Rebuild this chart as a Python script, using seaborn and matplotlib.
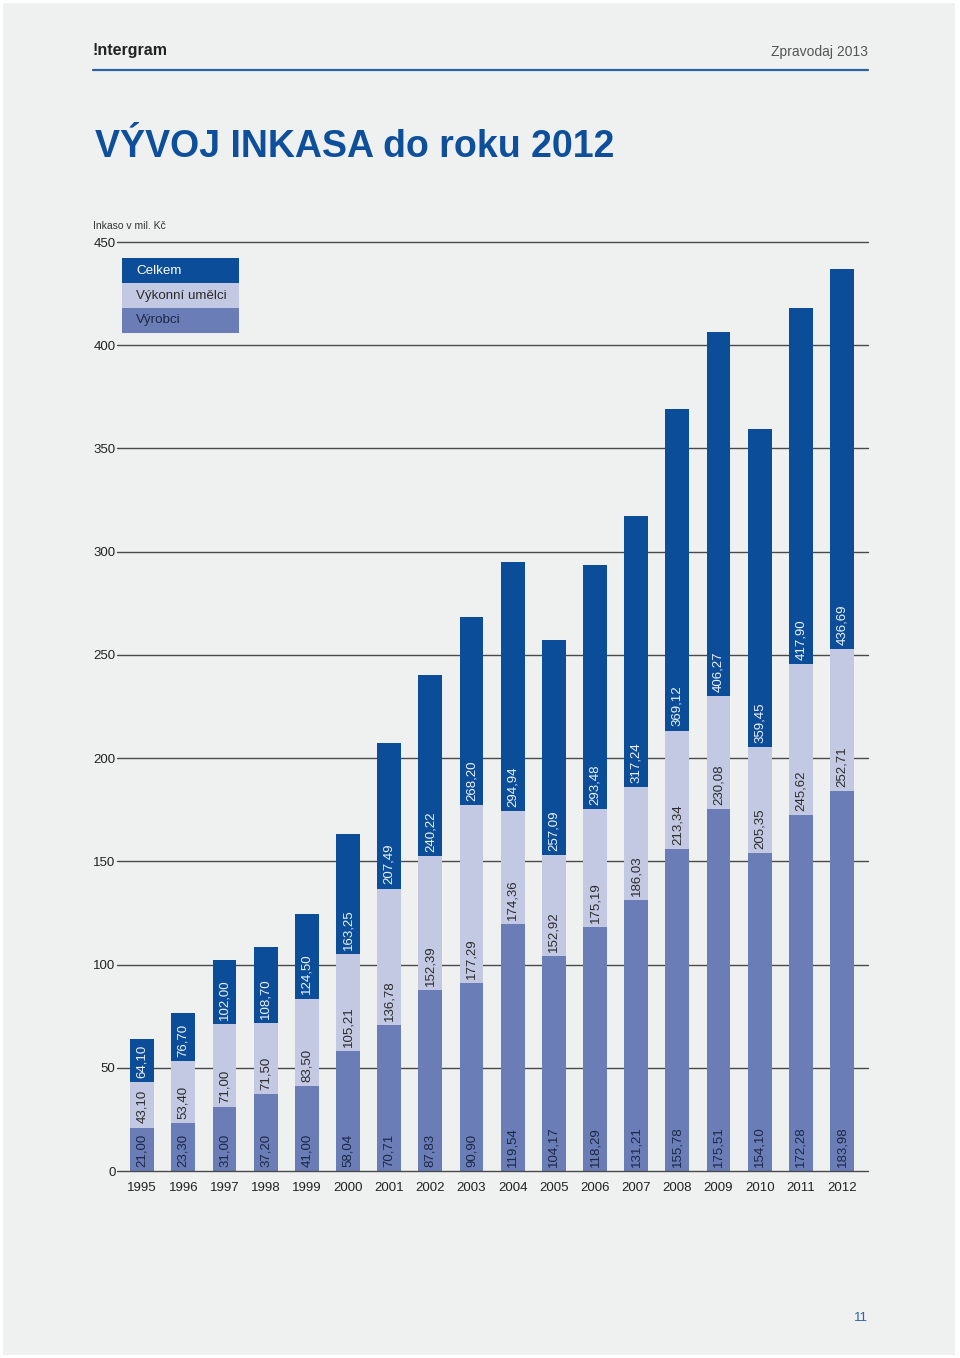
import matplotlib
matplotlib.use("Agg")
import matplotlib.pyplot as plt
import matplotlib.font_manager as fm
from matplotlib.patches import Rectangle
from matplotlib.lines import Line2D
import seaborn as sns
import pandas as pd

# ---- data ----
years = ["1995", "1996", "1997", "1998", "1999", "2000", "2001", "2002", "2003",
         "2004", "2005", "2006", "2007", "2008", "2009", "2010", "2011", "2012"]
vyrobci = [21.00, 23.30, 31.00, 37.20, 41.00, 58.04, 70.71, 87.83, 90.90,
           119.54, 104.17, 118.29, 131.21, 155.78, 175.51, 154.10, 172.28, 183.98]
vykonni_umelci = [43.10, 53.40, 71.00, 71.50, 83.50, 105.21, 136.78, 152.39, 177.29,
                  174.36, 152.92, 175.19, 186.03, 213.34, 230.08, 205.35, 245.62, 252.71]
celkem = [64.10, 76.70, 102.00, 108.70, 124.50, 163.25, 207.49, 240.22, 268.20,
          294.94, 257.09, 293.48, 317.24, 369.12, 406.27, 359.45, 417.90, 436.69]
y_ticks = [0, 50, 100, 150, 200, 250, 300, 350, 400, 450]
legend_labels = ["Celkem", "Výkonní umělci", "Výrobci"]

C_DARK = "#0b4d98"
C_LIGHT = "#c3c9e3"
C_MID = "#6a7db7"
BG = "#eff0f0"

sns.set_theme(style="white")
plt.rcParams['font.family'] = ['Liberation Sans', 'DejaVu Sans']


def has_font(name):
    try:
        fm.findfont(fm.FontProperties(family=name), fallback_to_default=False)
        return True
    except Exception:
        return False

narrow = has_font('Liberation Sans Narrow')

W, H = 960, 1358
fig = plt.figure(figsize=(W / 100, H / 100), dpi=100, facecolor="white")
fig.patches.append(Rectangle((3 / W, 3 / H), (W - 8) / W, (H - 6) / H,
                             transform=fig.transFigure, facecolor=BG,
                             edgecolor="none", zorder=-10))


def fx(px):
    return px / W


def fy(py):
    return 1 - py / H


# axes placement
ax = fig.add_axes([fx(117), fy(1171), fx(868) - fx(117), fy(242) - fy(1171)])
ax.set_facecolor("none")

df = pd.DataFrame({"rok": years, "vyrobci": vyrobci,
                   "umelci": vykonni_umelci, "celkem": celkem})

for col, colr in [("celkem", C_DARK), ("umelci", C_LIGHT), ("vyrobci", C_MID)]:
    sns.barplot(data=df, x="rok", y=col, order=years, color=colr, saturation=1,
                width=0.58, ax=ax, zorder=3, linewidth=0)

ax.set_ylim(0, 450)
ax.set_xlim(-0.61, len(years) - 1 + 0.63)
ax.set_yticks(y_ticks)
ax.set_yticklabels([str(t) for t in y_ticks])
ax.set_xlabel("")
ax.set_ylabel("")
for t in y_ticks:
    ax.axhline(t, color="#4a4a4a", lw=1.0, zorder=1 if t else 4, clip_on=False)
for s in ax.spines.values():
    s.set_visible(False)
ax.tick_params(axis="y", length=0, pad=1, labelsize=9.5, labelcolor="#222222")
ax.tick_params(axis="x", length=0, pad=8, labelsize=9.5, labelcolor="#222222")


def fmt(v):
    return f"{v:.2f}".replace(".", ",")

for i in range(len(years)):
    for base, val, tc in [(0, vyrobci[i], "#1c2745"),
                          (vyrobci[i], vykonni_umelci[i], "#2b2b2b"),
                          (vykonni_umelci[i], celkem[i], "#eef2fa")]:
        ax.annotate(fmt(val), xy=(i, base), xytext=(0, 3),
                    textcoords="offset points", rotation=90,
                    ha="center", va="bottom", fontsize=9.5, color=tc, zorder=5)

# legend boxes
leg_colors = [C_DARK, C_LIGHT, C_MID]
leg_text_colors = ["white", "#2b2b2b", "#1c2745"]
for k, (lab, c, tc) in enumerate(zip(legend_labels, leg_colors, leg_text_colors)):
    top = 258 + 25 * k
    fig.patches.append(Rectangle((fx(122), fy(top + 25)), fx(239) - fx(122), 25 / H,
                                 transform=fig.transFigure, facecolor=c,
                                 edgecolor="none", zorder=5))
    fig.text(fx(136), fy(top + 12.5), lab, ha="left", va="center",
             fontsize=9.6, color=tc, zorder=6)

# header
head_fam = ['Liberation Sans Narrow', 'Liberation Sans'] if narrow else ['Liberation Sans']
fig.text(fx(93), fy(51), "!ntergram", ha="left", va="center", fontsize=12.5 if narrow else 11.5,
         fontweight="bold", color="#222222", family=head_fam)
fig.text(fx(868), fy(52), "Zpravodaj 2013", ha="right", va="center", fontsize=10,
         color="#555555")
fig.add_artist(Line2D([fx(93), fx(868)], [fy(70), fy(70)], transform=fig.transFigure,
                      color="#2b63a3", lw=1.6))

# title
if narrow:
    fig.text(fx(95), fy(157), "VÝVOJ INKASA do roku 2012", ha="left", va="baseline",
             fontsize=33, fontweight="bold", color="#0d4f9a",
             family=['Liberation Sans Narrow', 'Liberation Sans'])
else:
    fig.text(fx(95), fy(157), "VÝVOJ INKASA do roku 2012", ha="left", va="baseline",
             fontsize=27, fontweight="bold", color="#0d4f9a")

fig.text(fx(93), fy(226), "Inkaso v mil. Kč", ha="left", va="center", fontsize=7.5,
         color="#333333")
fig.text(fx(868), fy(1318), "11", ha="right", va="center", fontsize=9.5,
         color="#2b63a3")

fig.savefig("out.png", dpi=100, facecolor=fig.get_facecolor())
